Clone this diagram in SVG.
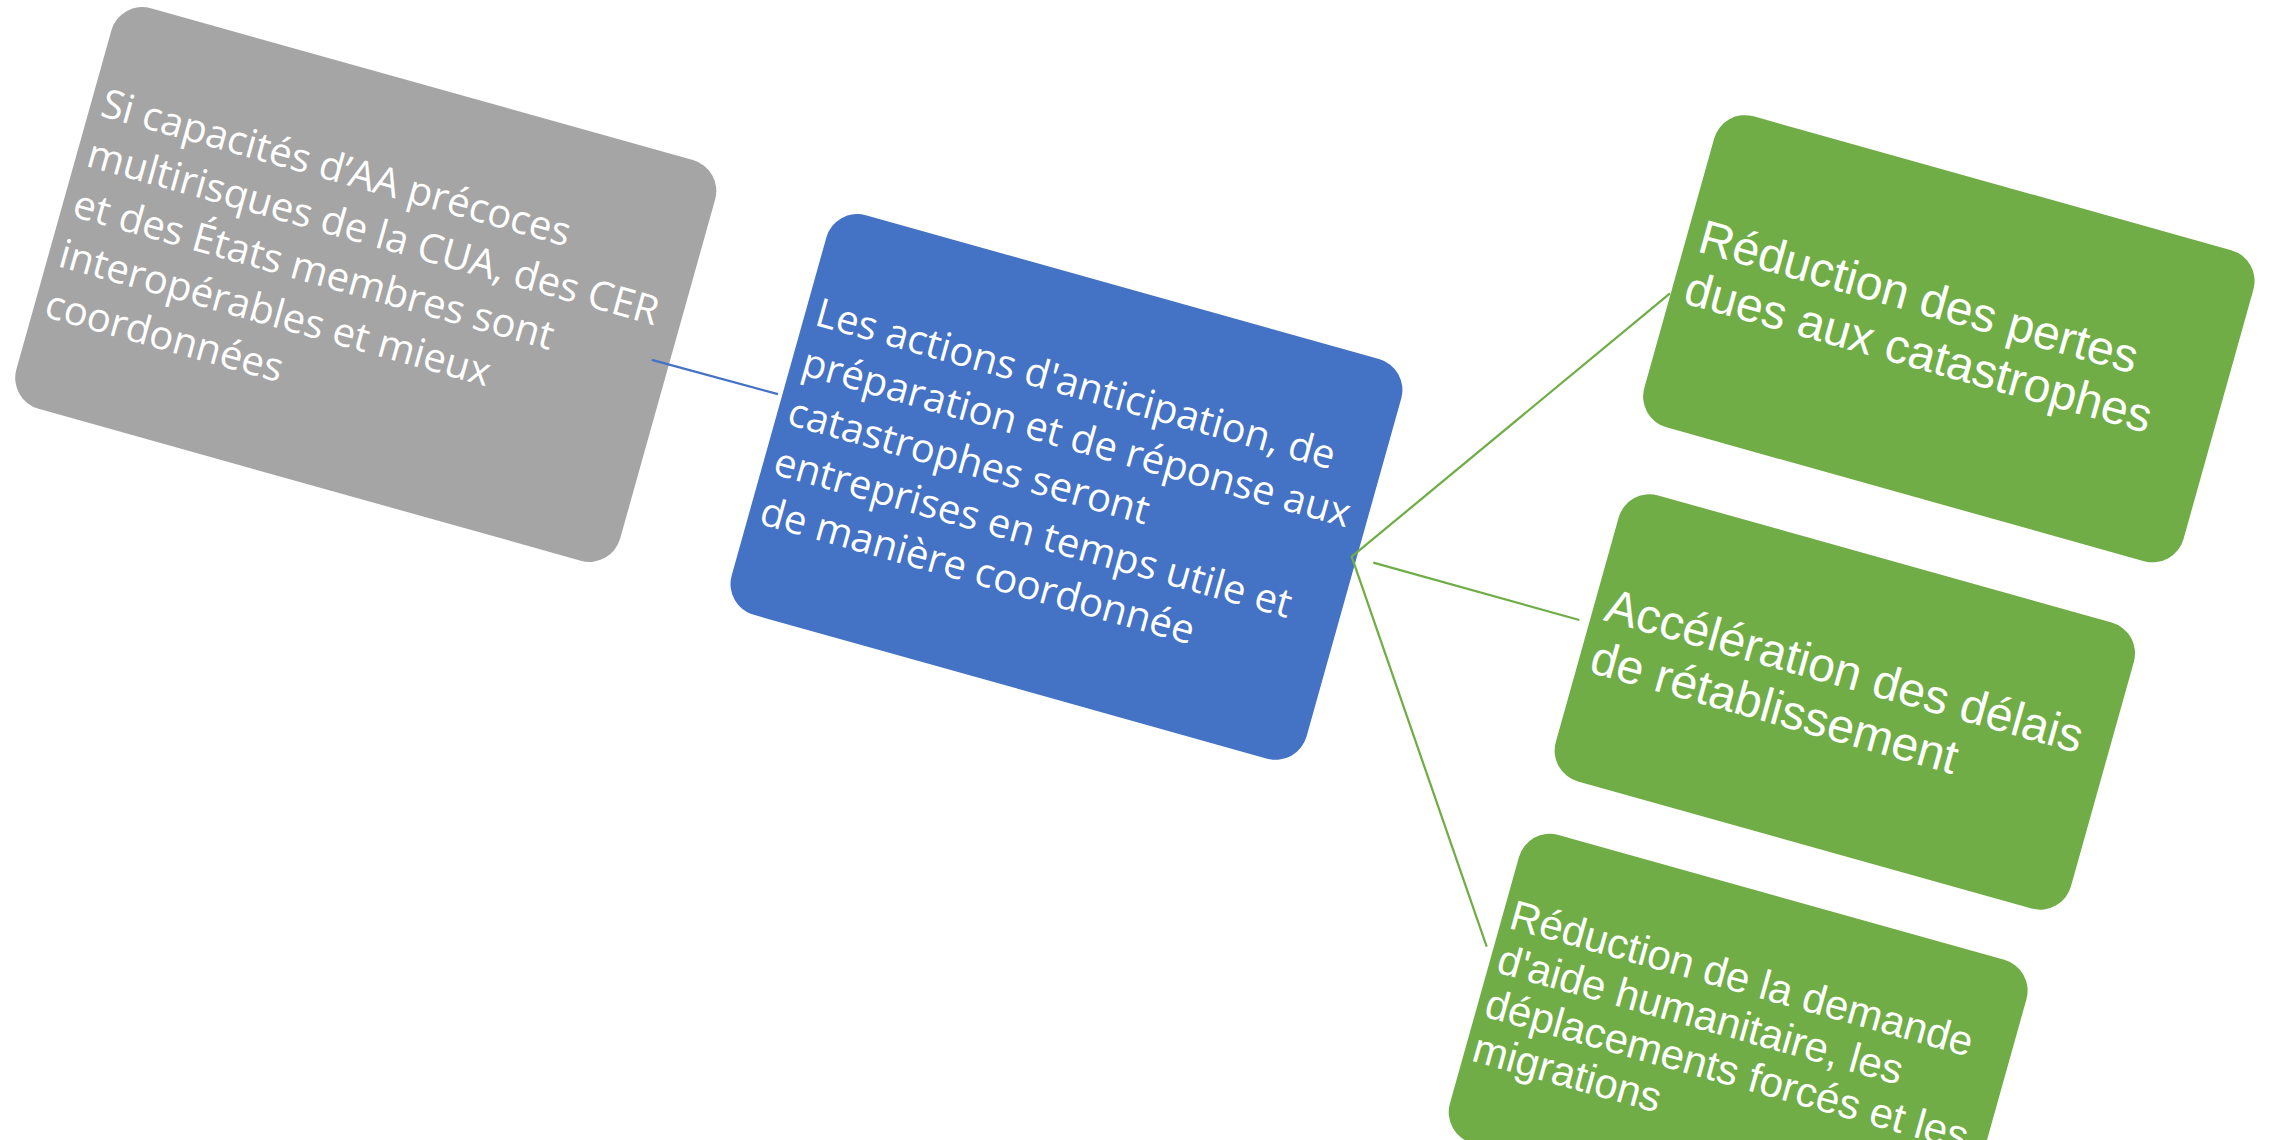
<svg xmlns="http://www.w3.org/2000/svg" width="2270" height="1140" viewBox="0 0 2270 1140">
<style>
.gray{fill:#A5A5A5}
.blue{fill:#4472C4}
.green{fill:#70AD47}
.t1{font-family:"Open Sans","Noto Sans",sans-serif;font-size:40px;fill:#FFFFFF}
.t2{font-family:"Liberation Sans",Arial,sans-serif;font-size:48px;fill:#FFFFFF}
.t3{font-family:"Liberation Sans",Arial,sans-serif;font-size:42px;fill:#FFFFFF}
.c1{stroke:#4472C4;stroke-width:2.25;fill:none}
.c2{stroke:#70AD47;stroke-width:2.25;fill:none;stroke-linejoin:miter}
</style>
<rect width="2270" height="1140" fill="#FFFFFF"/>
<g id="node-gray" transform="translate(120,-0.4) rotate(15.65)">
<rect class="gray" width="627" height="416" rx="32"/>
<text class="t1"><tspan x="11" y="117.4">Si capacités d’AA précoces</tspan><tspan x="11" y="169.5">multirisques de la CUA, des CER</tspan><tspan x="11" y="221.6">et des États membres sont</tspan><tspan x="11" y="273.7">interopérables et mieux</tspan><tspan x="11" y="325.8">coordonnées</tspan></text>
</g>
<g id="node-blue" transform="translate(835,206.6) rotate(15.65)">
<rect class="blue" width="597" height="415" rx="32"/>
<text class="t1"><tspan x="11" y="119.5">Les actions d'anticipation, de</tspan><tspan x="11" y="171.1">préparation et de réponse aux</tspan><tspan x="11" y="222.7">catastrophes seront</tspan><tspan x="11" y="274.3">entreprises en temps utile et</tspan><tspan x="11" y="325.9">de manière coordonnée</tspan></text>
</g>
<g id="node-green1" transform="translate(1722.8,107.7) rotate(15.65)">
<rect class="green" width="560" height="323" rx="32"/>
<text class="t2"><tspan x="13" y="145.5">Réduction des pertes</tspan><tspan x="13" y="199">dues aux catastrophes</tspan></text>
</g>
<g id="node-green2" transform="translate(1627.3,486.8) rotate(15.65)">
<rect class="green" width="535" height="297" rx="32"/>
<text class="t2"><tspan x="12" y="135">Accélération des délais</tspan><tspan x="12" y="189">de rétablissement</tspan></text>
</g>
<g id="node-green3" transform="translate(1527.6,826.3) rotate(15.65)">
<rect class="green" width="527" height="320" rx="32"/>
<text class="t3"><tspan x="8" y="103">Réduction de la demande</tspan><tspan x="8" y="149">d'aide humanitaire, les</tspan><tspan x="8" y="195">déplacements forcés et les</tspan><tspan x="8" y="241">migrations</tspan></text>
</g>
<g id="connectors">
<line class="c1" x1="651.8" y1="359.9" x2="778" y2="394.2"/>
<polyline class="c2" points="1670,293.3 1351.7,556.7 1486.7,946.7"/>
<line class="c2" x1="1373.3" y1="562.7" x2="1579.3" y2="620"/>
</g>
</svg>
